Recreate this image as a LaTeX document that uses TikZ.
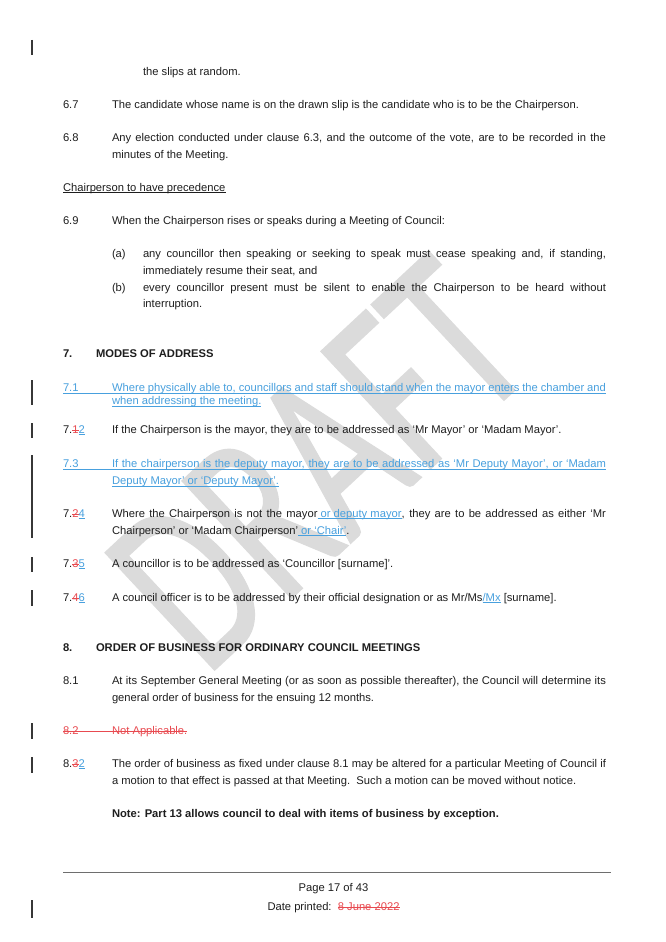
\documentclass[tikz,border=0pt]{standalone}
\usepackage{fontspec}
\setmainfont{Liberation Sans}
\newfontfamily\wmfont{Carlito}[FakeBold=0.6]
\definecolor{ink}{RGB}{30,30,30}
\definecolor{insblue}{RGB}{72,160,222}
\definecolor{delred}{RGB}{232,74,80}
\definecolor{wmgray}{RGB}{219,219,219}
\definecolor{barcol}{RGB}{55,55,55}
\definecolor{rulecol}{RGB}{110,110,110}
\newcommand\bodyfont{\fontsize{11.2}{13.4}\selectfont}
\newcommand\ulx[1]{\setbox0\hbox{#1}\rlap{\rule[-1.9pt]{\wd0}{0.55pt}}\box0}
\newcommand\insul[1]{\textcolor{insblue}{\ulx{#1}}}
\newcommand\delst[1]{\textcolor{delred}{\setbox0\hbox{#1}\rlap{\rule[2.9pt]{\wd0}{0.55pt}}\box0}}
\newcommand\jline[2]{\makebox[#1][s]{#2}}
\begin{document}
\begin{tikzpicture}[x=1pt,y=-1pt,
  every node/.style={inner sep=0pt,outer sep=0pt},
  txt/.style={anchor=base west,font=\bodyfont,text=ink},
  hd/.style={anchor=base west,font=\bodyfont\bfseries,text=ink},
  ins/.style={txt,text=insblue},
  del/.style={txt,text=delred},
  cbar/.style={draw=barcol,line width=1.3pt},
  ulblue/.style={draw=insblue,line width=0.55pt},
  stred/.style={draw=delred,line width=0.55pt},
  wm/.style={text=wmgray,font=\wmfont\fontsize{250}{250}\selectfont,anchor=base west,rotate=43}]
\fill[white] (0,0) rectangle (666,942);
\useasboundingbox (0,0) rectangle (666,942);
% watermark
\node[wm] (wmk) at (206,678) {\scalebox{0.68}[1]{DRAFT}};
% change bars
\draw[cbar] (32,40) -- (32,55);
\draw[cbar] (32,380) -- (32,405);
\draw[cbar] (32,423) -- (32,438);
\draw[cbar] (32,455) -- (32,538);
\draw[cbar] (32,557) -- (32,572);
\draw[cbar] (32,590) -- (32,606);
\draw[cbar] (32,723) -- (32,739);
\draw[cbar] (32,757) -- (32,773);
\draw[cbar] (32,900) -- (32,918);
% text
\node[txt] (slips) at (143,75) {the slips at random.};
\node[txt] (n67) at (63,108) {6.7};
\node[txt] (t67) at (112,108) {The candidate whose name is on the drawn slip is the candidate who is to be the Chairperson.};
\node[txt] (n68) at (63,141) {6.8};
\node[txt] (t68a) at (112,141) {\jline{494pt}{Any election conducted under clause 6.3, and the outcome of the vote, are to be recorded in the}};
\node[txt] (t68b) at (112,158) {minutes of the Meeting.};
\node[txt] (chp) at (63,191) {\ulx{Chairperson to have precedence}};
\node[txt] (n69) at (63,224) {6.9};
\node[txt] (t69) at (112,224) {When the Chairperson rises or speaks during a Meeting of Council:};
\node[txt] (la) at (112,257) {(a)};
\node[txt] (ta1) at (143,257) {\jline{463pt}{any councillor then speaking or seeking to speak must cease speaking and, if standing,}};
\node[txt] (ta2) at (143,274) {immediately resume their seat, and};
\node[txt] (lb) at (112,291) {(b)};
\node[txt] (tb1) at (143,291) {\jline{463pt}{every councillor present must be silent to enable the Chairperson to be heard without}};
\node[txt] (tb2) at (143,307) {interruption.};
\node[hd] (h7n) at (63,357) {7.};
\node[hd] (h7) at (96,357) {MODES OF ADDRESS};
\node[ins] (n71) at (63,391) {7.1};
\node[ins] (t71a) at (112,391) {\jline{494pt}{Where physically able to, councillors and staff should stand when the mayor enters the chamber and}};
\node[ins] (t71b) at (112,404) {when addressing the meeting.};
\draw[ulblue] ([yshift=-1.9pt]n71.base west) -- ([yshift=-1.9pt]t71a.base east);
\draw[ulblue] ([yshift=-1.9pt]t71b.base west) -- ([yshift=-1.9pt]t71b.base east);
\node[txt] (n72) at (63,433) {7.\delst{1}\insul{2}};
\node[txt] (t72) at (112,433) {If the Chairperson is the mayor, they are to be addressed as ‘Mr Mayor’ or ‘Madam Mayor’.};
\node[ins] (n73) at (63,467) {7.3};
\node[ins] (t73a) at (112,467) {\jline{494pt}{If the chairperson is the deputy mayor, they are to be addressed as ‘Mr Deputy Mayor’, or ‘Madam}};
\node[ins] (t73b) at (112,484) {Deputy Mayor’ or ‘Deputy Mayor’.};
\draw[ulblue] ([yshift=-1.9pt]n73.base west) -- ([yshift=-1.9pt]t73a.base east);
\draw[ulblue] ([yshift=-1.9pt]t73b.base west) -- ([yshift=-1.9pt]t73b.base east);
\node[txt] (n74) at (63,517) {7.\delst{2}\insul{4}};
\node[txt] (t74a) at (112,517) {\jline{494pt}{Where the Chairperson is not the mayor\insul{ or deputy mayor}, they are to be addressed as either ‘Mr}};
\node[txt] (t74b) at (112,534) {Chairperson’ or ‘Madam Chairperson’\insul{ or ‘Chair’}.};
\node[txt] (n75) at (63,567) {7.\delst{3}\insul{5}};
\node[txt] (t75) at (112,567) {A councillor is to be addressed as ‘Councillor [surname]’.};
\node[txt] (n76) at (63,601) {7.\delst{4}\insul{6}};
\node[txt] (t76) at (112,601) {A council officer is to be addressed by their official designation or as Mr/Ms\insul{/Mx} [surname].};
\node[hd] (h8n) at (63,651) {8.};
\node[hd] (h8) at (96,651) {ORDER OF BUSINESS FOR ORDINARY COUNCIL MEETINGS};
\node[txt] (n81) at (63,684) {8.1};
\node[txt] (t81a) at (112,684) {\jline{494pt}{At its September General Meeting (or as soon as possible thereafter), the Council will determine its}};
\node[txt] (t81b) at (112,701) {general order of business for the ensuing 12 months.};
\node[del] (n82) at (63,734) {8.2};
\node[del] (t82) at (112,734) {Not Applicable.};
\draw[stred] ([yshift=2.9pt]n82.base west) -- ([yshift=2.9pt]t82.base east);
\node[txt] (n83) at (63,767) {8.\delst{3}\insul{2}};
\node[txt] (t83a) at (112,767) {\jline{494pt}{The order of business as fixed under clause 8.1 may be altered for a particular Meeting of Council if}};
\node[txt] (t83b) at (112,784) {a motion to that effect is passed at that Meeting.\ \ Such a motion can be moved without notice.};
\node[hd] (note) at (112,817) {Note: Part 13 allows council to deal with items of business by exception.};
% footer
\coordinate (fl) at (63,872);
\coordinate (fr) at (611,872);
\draw[draw=rulecol,line width=0.8pt] (fl) -- (fr);
\node[txt,anchor=base] (pg) at (333.5,891) {Page 17 of 43};
\node[txt,anchor=base] (dp) at (333.5,910) {Date printed:\ \ \delst{8 June 2022}};
\end{tikzpicture}
\end{document}
